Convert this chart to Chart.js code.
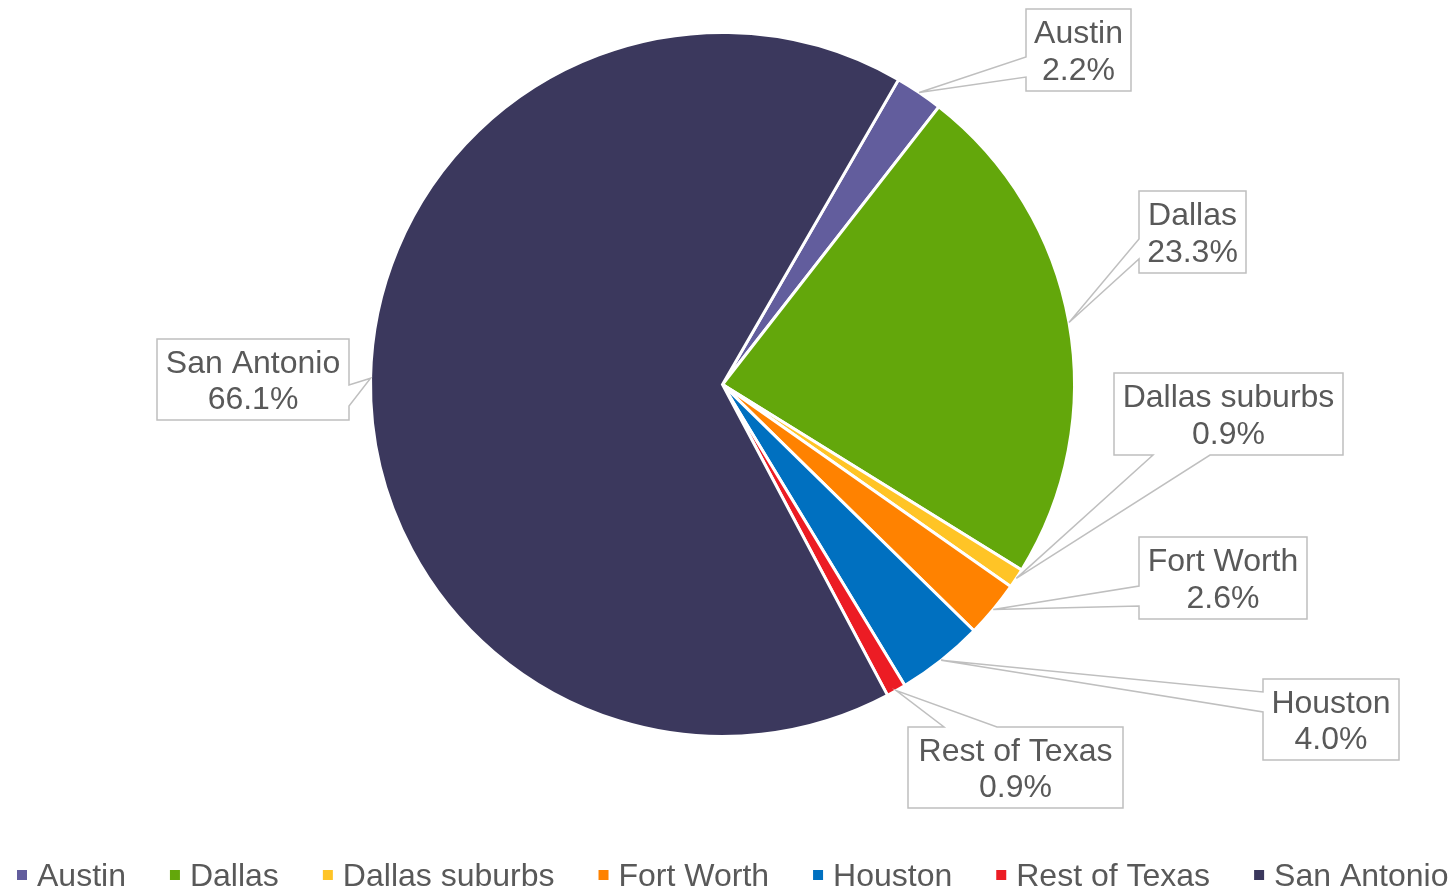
<!DOCTYPE html>
<html>
<head>
<meta charset="utf-8">
<script src="https://cdn.jsdelivr.net/npm/chart.js@4/dist/chart.umd.min.js"></script>
<style>
  html, body { margin: 0; padding: 0; background: #ffffff; }
  #wrap { width: 1453px; height: 889px; overflow: hidden; }
</style>
</head>
<body>
<div id="wrap"><canvas id="c" width="1453" height="889"></canvas></div>
<script>
// ---- Data ----
const categories = ["Austin", "Dallas", "Dallas suburbs", "Fort Worth", "Houston", "Rest of Texas", "San Antonio"];
const shares = [2.2, 23.3, 0.9, 2.6, 4.0, 0.9, 66.1];
const sliceColors = ["#625d9d", "#63a70b", "#ffc426", "#ff8200", "#0070c0", "#ec1c24", "#3b385d"];

// ---- Layout of callout boxes (not data) ----
// box: [left, top, right, bottom]; wedge: side + two points along that side
const calloutLayout = [
  { box: [1026, 9, 1131, 91],   side: "left",   a: 57,  b: 77 },
  { box: [1139, 191, 1246, 273], side: "left",  a: 239, b: 259 },
  { box: [1114, 373, 1343, 455], side: "bottom", a: 1153, b: 1210 },
  { box: [1139, 537, 1307, 619], side: "left",  a: 586, b: 606 },
  { box: [1263, 679, 1399, 760], side: "left",  a: 692, b: 712 },
  { box: [908, 727, 1123, 808],  side: "top",   a: 944, b: 997 },
  { box: [157, 339, 349, 420],   side: "right", a: 385, b: 406 }
];

const FONT = "'Liberation Sans', Arial, sans-serif";
const TEXT_COLOR = "#595959";
const FONT_PX = 32;

const calloutPlugin = {
  id: "callouts",
  afterDatasetsDraw(chart) {
    const ctx = chart.ctx;
    const meta = chart.getDatasetMeta(0);
    const vals = chart.data.datasets[0].data;
    const labels = chart.data.labels;
    meta.data.forEach((arc, i) => {
      const L = calloutLayout[i];
      if (!L) return;
      const mid = (arc.startAngle + arc.endAngle) / 2;
      const ax = arc.x + Math.cos(mid) * arc.outerRadius;
      const ay = arc.y + Math.sin(mid) * arc.outerRadius;
      const [l, t, r, b] = L.box;
      ctx.save();
      ctx.beginPath();
      if (L.side === "left") {
        ctx.moveTo(l, t); ctx.lineTo(r, t); ctx.lineTo(r, b); ctx.lineTo(l, b);
        ctx.lineTo(l, L.b); ctx.lineTo(ax, ay); ctx.lineTo(l, L.a);
      } else if (L.side === "right") {
        ctx.moveTo(l, t); ctx.lineTo(r, t); ctx.lineTo(r, L.a); ctx.lineTo(ax, ay);
        ctx.lineTo(r, L.b); ctx.lineTo(r, b); ctx.lineTo(l, b);
      } else if (L.side === "bottom") {
        ctx.moveTo(l, t); ctx.lineTo(r, t); ctx.lineTo(r, b); ctx.lineTo(L.b, b);
        ctx.lineTo(ax, ay); ctx.lineTo(L.a, b); ctx.lineTo(l, b);
      } else if (L.side === "top") {
        ctx.moveTo(l, t); ctx.lineTo(L.a, t); ctx.lineTo(ax, ay); ctx.lineTo(L.b, t);
        ctx.lineTo(r, t); ctx.lineTo(r, b); ctx.lineTo(l, b);
      }
      ctx.closePath();
      ctx.fillStyle = "#ffffff";
      ctx.fill();
      ctx.lineWidth = 1.5;
      ctx.strokeStyle = "#bfbfbf";
      ctx.lineJoin = "miter";
      ctx.stroke();
      const cx = (l + r) / 2, cy = (t + b) / 2;
      ctx.fillStyle = TEXT_COLOR;
      ctx.font = FONT_PX + "px " + FONT;
      ctx.textAlign = "center";
      ctx.textBaseline = "middle";
      ctx.fillText(labels[i], cx, cy - 15.5);
      ctx.fillText(vals[i].toFixed(1) + "%", cx, cy + 21);
      ctx.restore();
    });
  }
};

const legendPlugin = {
  id: "customLegend",
  afterDraw(chart) {
    const ctx = chart.ctx;
    const ds = chart.data.datasets[0];
    ctx.save();
    ctx.font = FONT_PX + "px " + FONT;
    ctx.textBaseline = "alphabetic";
    ctx.textAlign = "left";
    let x = 17;
    const baseY = 886;
    chart.data.labels.forEach((lab, i) => {
      ctx.fillStyle = ds.backgroundColor[i];
      ctx.fillRect(x, 870, 10, 10);
      ctx.fillStyle = TEXT_COLOR;
      ctx.fillText(lab, x + 20, baseY);
      x += 20 + ctx.measureText(lab).width + 44;
    });
    ctx.restore();
  }
};

new Chart(document.getElementById("c"), {
  type: "pie",
  data: {
    labels: categories,
    datasets: [{
      data: shares,
      backgroundColor: sliceColors,
      borderColor: "#ffffff",
      borderWidth: 3,
      borderJoinStyle: "miter"
    }]
  },
  options: {
    responsive: false,
    animation: false,
    rotation: 30,
    layout: { padding: { left: 369, right: 377, top: 31, bottom: 151 } },
    plugins: {
      legend: { display: false },
      tooltip: { enabled: false },
      title: { display: false }
    }
  },
  plugins: [calloutPlugin, legendPlugin]
});
</script>
</body>
</html>
